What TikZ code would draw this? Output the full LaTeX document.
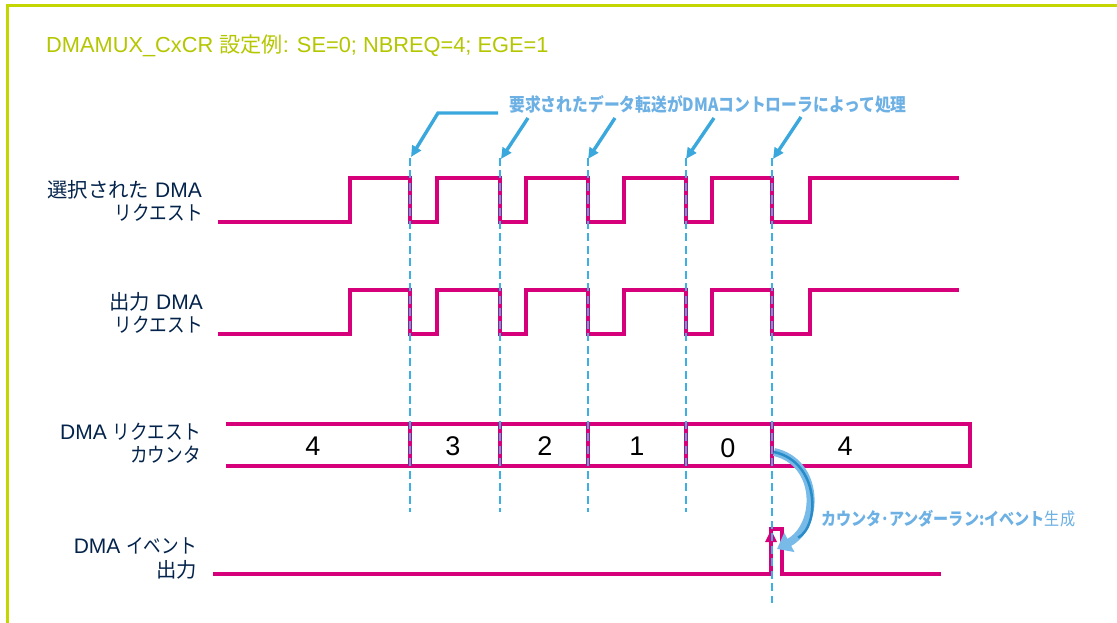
\documentclass[tikz,border=0pt]{standalone}
\usepackage{fontspec}
\setmainfont{Liberation Sans}
\newfontfamily\jp[Scale=0.97,FakeStretch=0.865]{Noto Sans CJK JP}
\newfontfamily\jpk[Scale=0.97]{Noto Sans CJK JP}
\usetikzlibrary{arrows.meta}
\definecolor{stpink}{RGB}{214,0,122}
\definecolor{stlblue}{RGB}{60,176,228}
\definecolor{calloutblue}{RGB}{58,168,220}
\definecolor{calltext}{RGB}{108,176,228}
\definecolor{navy}{RGB}{3,35,75}
\definecolor{framelime}{RGB}{196,214,0}
\definecolor{titlelime}{RGB}{180,198,0}
\definecolor{tubeblue}{RGB}{120,186,232}
\definecolor{tubedark}{RGB}{40,140,200}
\begin{document}
\begin{tikzpicture}[x=1pt,y=-1pt,
  sig/.style={stpink, line width=3.2pt, line join=miter},
  guide/.style={stlblue, line width=1.2pt, dash pattern=on 8pt off 4.5pt},
  callout/.style={calloutblue, line width=3.4pt, -{Triangle[length=11pt,width=10pt]}},
  lab/.style={navy, font=\fontsize{21}{24}\selectfont, anchor=base east, inner sep=0pt},
  num/.style={font=\fontsize{27}{30}\selectfont, anchor=center, inner sep=0pt},
  note/.style={calltext, font=\fontsize{18}{20}\selectfont\bfseries, inner sep=0pt}
]
\useasboundingbox (0,0) rectangle (1117,623);
% frame
\draw[framelime, line width=3pt] (7.5,623) -- (7.5,5.5) -- (1117,5.5);
% title
\node[titlelime, font=\fontsize{21.8}{26}\selectfont, anchor=base west, inner sep=0pt] (title) at (46,53)
  {DMAMUX\_CxCR {\jpk 設定例}: SE=0; NBREQ=4; EGE=1};

% labels
\node[lab] (sel1) at (202,197) {{\jpk 選択された} DMA};
\node[lab] (sel2) at (203,220) {\jp リクエスト};
\node[lab] (out1) at (203,309) {{\jpk 出力} DMA};
\node[lab] (out2) at (203,332) {\jp リクエスト};
\node[lab] (cnt1) at (201,439) {DMA {\jp リクエスト}};
\node[lab] (cnt2) at (201,462) {\jp カウンタ};
\node[lab] (evt1) at (197,553) {DMA {\jp イベント}};
\node[lab] (evt2) at (197,577) {\jpk 出力};

% selected DMA request
\draw[sig] (218,222) -- (350,222) -- (350,178) -- (410,178) -- (410,222) -- (437,222) -- (437,178)
  -- (500,178) -- (500,222) -- (526,222) -- (526,178) -- (588,178) -- (588,222) -- (624,222) -- (624,178)
  -- (686,178) -- (686,222) -- (712,222) -- (712,178) -- (772,178) -- (772,222) -- (810,222) -- (810,178) -- (959,178);
% output DMA request
\draw[sig] (218,334) -- (350,334) -- (350,290) -- (410,290) -- (410,334) -- (437,334) -- (437,290)
  -- (500,290) -- (500,334) -- (526,334) -- (526,290) -- (588,290) -- (588,334) -- (624,334) -- (624,290)
  -- (686,290) -- (686,334) -- (712,334) -- (712,290) -- (772,290) -- (772,334) -- (810,334) -- (810,290) -- (959,290);
% counter
\draw[sig] (226,424) -- (970,424) -- (970,466) -- (226,466);
\foreach \x in {410,500,588,686,772} \draw[sig] (\x,424) -- (\x,466);
\node[num] (c4a) at (313,446) {4};
\node[num] (c3) at (453,446) {3};
\node[num] (c2) at (545,446) {2};
\node[num] (c1) at (637,446) {1};
\node[num] (c0) at (728,448) {0};
\node[num] (c4b) at (845,446) {4};
% event output
\draw[sig] (213,574) -- (771,574) -- (771,529) -- (782,529) -- (782,574) -- (941,574);
\fill[stpink] (765,542) -- (771,530) -- (777,542) -- cycle;

% guides
\foreach \x in {410,500,588,686} \draw[guide] (\x,158) -- (\x,512);
\draw[guide] (772,158) -- (772,603);

% callout
\node[note, font=\fontsize{18.8}{21}\selectfont\bfseries] (req) at (708,104) {\jp 要求されたデータ転送がDMAコントローラによって処理};
\coordinate (k0) at (498,113);
\draw[callout] (k0) -- (438,113) -- (411,157);
\coordinate (k1) at (528,118);
\coordinate (k2) at (615,118);
\coordinate (k3) at (714,118);
\coordinate (k4) at (801,117);
\draw[callout] (k1) -- (501,159);
\draw[callout] (k2) -- (588,159);
\draw[callout] (k3) -- (686,159);
\draw[callout] (k4) -- (773,159);

% underrun arrow
\coordinate (uf) at (774,452);
\coordinate (ev) at (777,549);
\draw[tubeblue, line width=8pt, -{Triangle[length=14pt,width=21pt]}] (uf) .. controls (820,462) and (820,526) .. (ev);
\draw[tubedark, line width=2.5pt, shorten >=24pt] (uf) .. controls (820,462) and (820,526) .. (ev);
\node[note, anchor=west] (und) at (821,519) {{\jp カウンタ･アンダーラン:イベント}{\jp\mdseries 生成}};
\end{tikzpicture}
\end{document}
